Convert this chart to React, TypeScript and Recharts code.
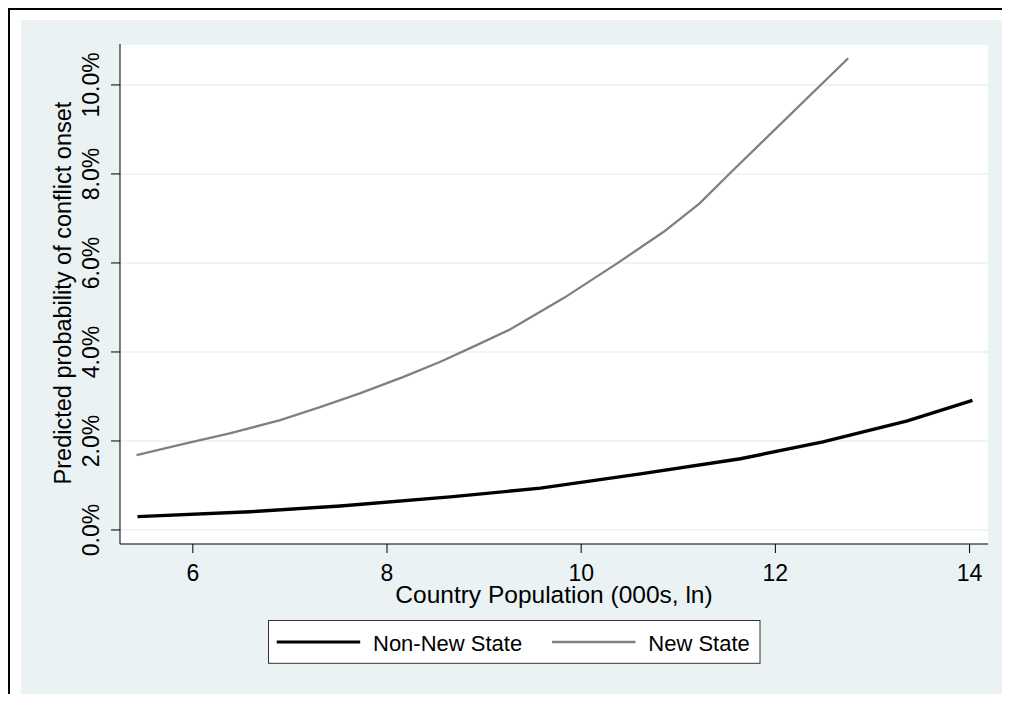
import React from 'react';
import { LineChart, Line, XAxis, YAxis, CartesianGrid, Legend } from 'recharts';

// Non-New State (black) — population (ln) and predicted probability (%)
const nonNewX = [5.43, 6.59, 7.52, 8.68, 9.58, 10.61, 11.64, 12.49, 13.36, 14.03];
const nonNewY = [0.3, 0.41, 0.54, 0.75, 0.94, 1.26, 1.6, 1.98, 2.45, 2.91];

// New State (gray)
const newX = [5.42, 5.94, 6.38, 6.9, 7.31, 7.72, 8.17, 8.55, 8.89, 9.27, 9.82, 10.37, 10.85, 11.22, 11.53, 12.75];
const newY = [1.68, 1.95, 2.17, 2.47, 2.76, 3.07, 3.44, 3.78, 4.12, 4.51, 5.21, 5.99, 6.7, 7.34, 8.01, 10.6];

const xTicks = [6, 8, 10, 12, 14];
const yTicks = [0, 2, 4, 6, 8, 10];
const seriesNames = ['Non-New State', 'New State'];
const seriesColors = ['#000000', '#808080'];
const seriesWidths = [3.4, 2.3];

const xTitle = 'Country Population (000s, ln)';
const yTitle = 'Predicted probability of conflict onset';

const FONT = '"Liberation Sans", Arial, Helvetica, sans-serif';

const nonNewData = nonNewX.map((x, i) => ({ x, y: nonNewY[i] }));
const newData = newX.map((x, i) => ({ x, y: newY[i] }));

const XTick = (props: any) => {
  const { x, y, payload } = props;
  return (
    <text x={x} y={y} dy={26} textAnchor="middle" fontSize={23} fontFamily={FONT} fill="#000">
      {payload.value}
    </text>
  );
};

const YTick = (props: any) => {
  const { x, y, payload } = props;
  const bx = x - 9.5;
  return (
    <text
      x={bx}
      y={y}
      textAnchor="middle"
      transform={`rotate(-90, ${bx}, ${y})`}
      fontSize={23}
      fontFamily={FONT}
      fill="#000"
    >
      {Number(payload.value).toFixed(1) + '%'}
    </text>
  );
};

const XLabel = (props: any) => {
  const vb = props.viewBox || {};
  const cx = vb.x + vb.width / 2;
  const cy = vb.y + 59;
  return (
    <text x={cx} y={cy} textAnchor="middle" fontSize={24.5} fontFamily={FONT} fill="#000">
      {xTitle}
    </text>
  );
};

const YLabel = (props: any) => {
  const vb = props.viewBox || {};
  const cx = 71;
  const cy = vb.y + vb.height / 2 - 1;
  return (
    <text
      x={cx}
      y={cy}
      textAnchor="middle"
      transform={`rotate(-90, ${cx}, ${cy})`}
      fontSize={23.5}
      fontFamily={FONT}
      fill="#000"
    >
      {yTitle}
    </text>
  );
};

const LegendBox = (props: any) => {
  const payload = props.payload || [];
  return (
    <svg width={493} height={44} style={{ display: 'block' }}>
      <rect x={0.5} y={0.5} width={491.5} height={42.8} fill="#fff" stroke="#333" strokeWidth={1} />
      {payload.map((entry: any, k: number) => {
        let i = seriesNames.indexOf(entry.value);
        if (i < 0) i = k;
        const sx = 8.7 + i * 275.3;
        return (
          <g key={k}>
            <line
              x1={sx}
              x2={sx + 83.5}
              y1={22}
              y2={22}
              stroke={seriesColors[i]}
              strokeWidth={i === 0 ? 3 : 2.3}
            />
            <text x={sx + 96.3} y={31.3} fontSize={22} fontFamily={FONT} fill="#000">
              {entry.value}
            </text>
          </g>
        );
      })}
    </svg>
  );
};

export default function App() {
  return (
    <div
      style={{
        position: 'relative',
        width: 1002,
        height: 694,
        marginBottom: -8,
        overflow: 'hidden',
        background: '#fff',
      }}
    >
      <div style={{ position: 'absolute', left: 0, top: 0, width: 2, height: 694, background: '#000' }} />
      <div style={{ position: 'absolute', left: 0, top: 0, width: 1002, height: 2, background: '#000' }} />
      <div
        style={{
          position: 'absolute',
          left: 13,
          top: 12,
          right: 0,
          bottom: 0,
          background: '#EAF2F3',
        }}
      />
      <div style={{ position: 'absolute', left: -8, top: -8 }}>
        <LineChart width={1010} height={702} margin={{ top: 44, right: 22, bottom: 0, left: 0 }}>
          <CartesianGrid
            vertical={false}
            horizontal={true}
            fill="#ffffff"
            stroke="#EAF2F3"
            strokeWidth={1.5}
          />
          <XAxis
            type="number"
            dataKey="x"
            domain={[5.25, 14.19]}
            allowDataOverflow
            ticks={xTicks}
            height={158}
            tickSize={9}
            tickMargin={2}
            axisLine={{ stroke: '#000', strokeWidth: 1 }}
            tickLine={{ stroke: '#000', strokeWidth: 1 }}
            tick={<XTick />}
            label={XLabel}
          />
          <YAxis
            type="number"
            dataKey="y"
            domain={[-0.315, 10.92]}
            allowDataOverflow
            ticks={yTicks}
            width={120}
            tickSize={9}
            tickMargin={2}
            axisLine={{ stroke: '#000', strokeWidth: 1 }}
            tickLine={{ stroke: '#000', strokeWidth: 1 }}
            tick={<YTick />}
            label={YLabel}
          />
          <Line
            data={nonNewData}
            dataKey="y"
            name={seriesNames[0]}
            type="linear"
            stroke={seriesColors[0]}
            strokeWidth={seriesWidths[0]}
            dot={false}
            activeDot={false}
            isAnimationActive={false}
          />
          <Line
            data={newData}
            dataKey="y"
            name={seriesNames[1]}
            type="linear"
            stroke={seriesColors[1]}
            strokeWidth={seriesWidths[1]}
            dot={false}
            activeDot={false}
            isAnimationActive={false}
          />
          <Legend
            layout="horizontal"
            verticalAlign="middle"
            align="center"
            wrapperStyle={{ left: 268, top: 620, width: 493, height: 44 }}
            content={<LegendBox />}
          />
        </LineChart>
      </div>
    </div>
  );
}
